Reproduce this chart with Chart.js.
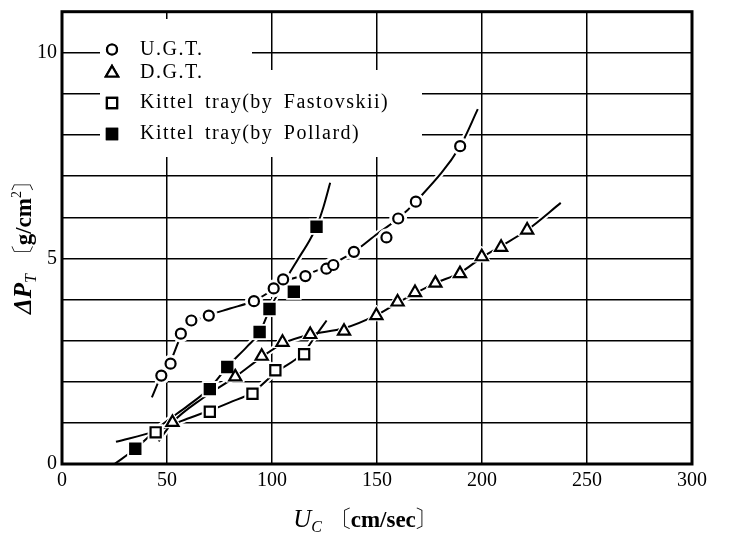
<!DOCTYPE html>
<html>
<head>
<meta charset="utf-8">
<script src="https://cdn.jsdelivr.net/npm/chart.js@4.4.1/dist/chart.umd.min.js"></script>
<style>
  html, body { margin: 0; padding: 0; background: #fff; }
  #wrap { width: 752px; height: 551px; }
</style>
</head>
<body>
<div id="wrap"><canvas id="pressureChart" width="752" height="551"></canvas></div>
<script>
// measured points (U_C in cm/sec, dP_T in g/cm2)
const ugtX = [47.3, 51.7, 56.6, 61.6, 69.9, 91.4, 100.8, 105.3, 115.9, 125.9, 129.2, 139.0, 154.5, 160.1, 168.5, 189.6]
const ugtY = [2.15, 2.44, 3.17, 3.49, 3.61, 3.96, 4.27, 4.49, 4.57, 4.75, 4.84, 5.16, 5.51, 5.97, 6.38, 7.73]

const dgtX = [52.6, 82.5, 95.1, 105.0, 118.2, 134.3, 149.7, 159.8, 168.1, 177.8, 189.5, 199.9, 209.1, 221.5]
const dgtY = [1.01, 2.12, 2.62, 2.96, 3.15, 3.23, 3.61, 3.94, 4.17, 4.40, 4.63, 5.04, 5.27, 5.69]

const fastX = [44.6, 70.4, 90.7, 101.6, 115.3]
const fastY = [0.77, 1.27, 1.71, 2.28, 2.67]

const pollX = [34.9, 70.4, 78.7, 94.1, 98.8, 110.4, 121.2]
const pollY = [0.37, 1.82, 2.36, 3.21, 3.77, 4.19, 5.77]

// hand drawn curves, read along the lines of the figure
const ugtCurveX = [42.8, 47.3, 51.7, 56.6, 61.6, 69.9, 80, 91.4, 100.8, 105.3, 115.9, 125.9, 139, 150.2, 160.1, 168.5, 189.6, 198]
const ugtCurveY = [1.62, 2.15, 2.5, 3.1, 3.42, 3.62, 3.78, 3.97, 4.25, 4.42, 4.6, 4.8, 5.16, 5.6, 5.97, 6.38, 7.73, 8.63]

const dgtCurveX = [46, 52.6, 67, 82.5, 95.1, 105, 118.2, 134.3, 149.7, 159.8, 168.1, 177.8, 189.5, 199.9, 209.1, 221.5, 237.5]
const dgtCurveY = [0.55, 1.01, 1.6, 2.12, 2.6, 2.93, 3.15, 3.3, 3.62, 3.92, 4.15, 4.4, 4.65, 5.02, 5.3, 5.69, 6.35]

const fastCurveX = [25.7, 44.6, 57, 70.4, 80, 90.7, 101.6, 115.3, 120.5, 126]
const fastCurveY = [0.54, 0.8, 1.05, 1.3, 1.5, 1.74, 2.22, 2.72, 3.1, 3.49]

const pollCurveX = [25, 34.9, 47, 60, 70.4, 79, 88, 94.1, 98.8, 105, 112, 118, 121.2, 124.5, 127.7]
const pollCurveY = [0, 0.37, 0.93, 1.42, 1.85, 2.38, 2.85, 3.2, 3.75, 4.35, 4.95, 5.45, 5.77, 6.25, 6.84]

const xTicks = [0, 50, 100, 150, 200, 250, 300]
const yLabelTicks = [0, 5, 10]

const legendLabels = ["U.G.T.", "D.G.T.", "Kittel tray(by Fastovskii)", "Kittel tray(by Pollard)"]

const SERIF = '"Liberation Serif", "Noto Serif CJK JP", "Noto Sans CJK JP", serif'

function pts(xs, ys) {
  return xs.map((x, i) => ({ x: x, y: ys[i] }))
}

// marker look per series
const markers = [
  { style: "circle", radius: 5, fill: "#fff" },
  { style: "triangle", radius: 7, fill: "#fff" },
  { style: "rect", radius: 7.2, fill: "#fff" },
  { style: "rect", radius: 7.2, fill: "#000" },
]
const series = [
  [ugtX, ugtY, ugtCurveX, ugtCurveY],
  [dgtX, dgtY, dgtCurveX, dgtCurveY],
  [fastX, fastY, fastCurveX, fastCurveY],
  [pollX, pollY, pollCurveX, pollCurveY],
]

const datasets = []
series.forEach((s, i) => {
  const m = markers[i]
  // white band under the curve, cuts the grid like in the print
  datasets.push({
    data: pts(s[2], s[3]), showLine: true, pointRadius: 0,
    borderColor: "#fff", borderWidth: 6, cubicInterpolationMode: "monotone", order: 5,
  })
  datasets.push({
    data: pts(s[2], s[3]), showLine: true, pointRadius: 0,
    borderColor: "#000", borderWidth: 2, cubicInterpolationMode: "monotone", order: 4,
  })
  // halo round markers
  datasets.push({
    data: pts(s[0], s[1]), showLine: false, pointStyle: m.style,
    pointRadius: m.radius + 3.5, pointBackgroundColor: "#fff", pointBorderColor: "#fff",
    pointBorderWidth: 1, order: 3,
  })
  datasets.push({
    label: legendLabels[i],
    data: pts(s[0], s[1]), showLine: false, pointStyle: m.style,
    pointRadius: m.radius, pointBackgroundColor: m.fill, pointBorderColor: "#000",
    pointBorderWidth: 2.2, order: 1,
  })
})

function drawRuns(ctx, runs, cx, cy) {
  let total = 0
  runs.forEach(r => { ctx.font = r.font; total += ctx.measureText(r.text).width })
  let x = cx - total / 2
  runs.forEach(r => {
    ctx.font = r.font
    ctx.fillText(r.text, x, cy + (r.dy || 0))
    x += ctx.measureText(r.text).width
  })
}

const decorPlugin = {
  id: "decor",
  afterDatasetsDraw(chart) {
    const ctx = chart.ctx
    const a = chart.chartArea
    ctx.save()
    // legend background hides the grid
    ctx.fillStyle = "#fff"
    ctx.fillRect(100, 19, 152, 51)
    ctx.fillRect(100, 70, 322, 87)

    // legend
    const rowsY = [49.5, 73, 103, 134]
    rowsY.forEach((y, i) => {
      const m = markers[i]
      ctx.fillStyle = m.fill
      ctx.strokeStyle = "#000"
      ctx.lineWidth = 2.2
      const opts = { pointStyle: m.style, radius: m.radius, borderWidth: 2 }
      Chart.helpers.drawPoint(ctx, opts, 112, y)
      ctx.fill()
      ctx.stroke()
      ctx.fillStyle = "#000"
      ctx.font = "20px " + SERIF
      ctx.textBaseline = "middle"
      ctx.textAlign = "left"
      ctx.letterSpacing = "1.5px"
      ctx.wordSpacing = "4px"
      ctx.fillText(legendLabels[i], 140, y)
    })
    ctx.letterSpacing = "0px"
    ctx.wordSpacing = "0px"

    // frame
    ctx.strokeStyle = "#000"
    ctx.lineWidth = 3
    ctx.strokeRect(a.left, a.top, a.right - a.left, a.bottom - a.top)

    // axis titles
    ctx.fillStyle = "#000"
    ctx.textAlign = "left"
    ctx.textBaseline = "alphabetic"
    drawRuns(ctx, [
      { text: "U", font: "italic 25px " + SERIF },
      { text: "C", font: "italic 16px " + SERIF, dy: 5 },
      { text: " 〔", font: "23px " + SERIF },
      { text: "cm/sec", font: "bold 23px " + SERIF },
      { text: "〕", font: "23px " + SERIF },
    ], 366, 527)

    ctx.translate(31, 241)
    ctx.rotate(-Math.PI / 2)
    drawRuns(ctx, [
      { text: "ΔP", font: "italic bold 25px " + SERIF },
      { text: "T", font: "italic 16px " + SERIF, dy: 5 },
      { text: " 〔", font: "23px " + SERIF },
      { text: "g/cm", font: "bold 23px " + SERIF },
      { text: "2", font: "14px " + SERIF, dy: -10 },
      { text: "〕", font: "23px " + SERIF },
    ], 0, 0)
    ctx.restore()
  },
}

const pressureChart = new Chart(document.getElementById("pressureChart"), {
  type: "scatter",
  data: { datasets: datasets },
  options: {
    responsive: false,
    devicePixelRatio: 1,
    animation: false,
    layout: { padding: { top: 8, right: 60, left: 0, bottom: 0 } },
    plugins: { legend: { display: false }, tooltip: { enabled: false } },
    scales: {
      x: {
        type: "linear", min: 0, max: 300,
        afterBuildTicks: s => { s.ticks = xTicks.map(v => ({ value: v })) },
        ticks: { color: "#000", padding: 5, maxRotation: 0, font: { family: SERIF, size: 20 } },
        grid: { color: "#000", lineWidth: 1.5, drawTicks: false },
        border: { display: false },
        afterFit: s => { s.height = 87; s.paddingLeft = 0; s.paddingRight = 0 },
      },
      y: {
        type: "linear", min: 0, max: 11,
        ticks: {
          stepSize: 1, color: "#000", padding: 5,
          font: { family: SERIF, size: 20 },
          callback: v => (yLabelTicks.includes(v) ? String(v) : ""),
        },
        grid: { color: "#000", lineWidth: 1.5, drawTicks: false },
        border: { display: false },
        afterFit: s => { s.width = 62; s.paddingTop = 0; s.paddingBottom = 0 },
      },
    },
  },
  plugins: [decorPlugin],
})
</script>
</body>
</html>
